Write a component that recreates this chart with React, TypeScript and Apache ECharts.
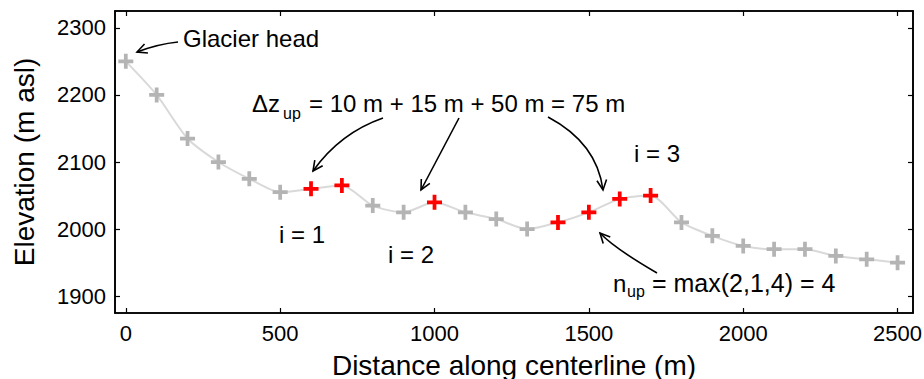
import React, { useEffect, useRef } from "react";
import * as echarts from "echarts";

const distances = [0, 100, 200, 300, 400, 500, 600, 700, 800, 900, 1000, 1100, 1200, 1300, 1400, 1500, 1600, 1700, 1800, 1900, 2000, 2100, 2200, 2300, 2400, 2500];
const elevations = [2250, 2200, 2135, 2100, 2075, 2055, 2060, 2065, 2035, 2025, 2040, 2025, 2015, 2000, 2010, 2025, 2045, 2050, 2010, 1990, 1975, 1970, 1970, 1960, 1955, 1950];
const highlighted = [600, 700, 1000, 1400, 1500, 1600, 1700];
const xTicks = [0, 500, 1000, 1500, 2000, 2500];
const yTicks = [1900, 2000, 2100, 2200, 2300];

const FONT = "'Liberation Sans', Arial, Helvetica, sans-serif";
const PLUS = "path://M3,0h2v3h3v2h-3v3h-2v-3h-3v-2h3z";

type P = [number, number];

function arrow(tail: P, ctrl: P, tip: P): any[] {
  const dx = tip[0] - ctrl[0];
  const dy = tip[1] - ctrl[1];
  const len = Math.hypot(dx, dy) || 1;
  const ux = dx / len;
  const uy = dy / len;
  const L = 11;
  const a = (26 * Math.PI) / 180;
  const rot = (s: number): P => {
    const c = Math.cos(s * a);
    const sn = Math.sin(s * a);
    const rx = ux * c - uy * sn;
    const ry = ux * sn + uy * c;
    return [tip[0] - L * rx, tip[1] - L * ry];
  };
  return [
    {
      type: "bezierCurve",
      z: 100,
      shape: { x1: tail[0], y1: tail[1], x2: tip[0], y2: tip[1], cpx1: ctrl[0], cpy1: ctrl[1] },
      style: { stroke: "#000", lineWidth: 1.6, fill: null },
    },
    {
      type: "polyline",
      z: 100,
      shape: { points: [rot(1), tip, rot(-1)] },
      style: { stroke: "#000", lineWidth: 1.6, fill: null },
    },
  ];
}

function label(text: string, x: number, y: number, size: number): any {
  return {
    type: "text",
    z: 100,
    style: { text, x, y, font: `${size}px ${FONT}`, fill: "#000", textAlign: "left", textVerticalAlign: "middle" },
  };
}

export default function App() {
  const ref = useRef<HTMLDivElement>(null);
  useEffect(() => {
    document.body.style.margin = "0";
    const chart = echarts.init(ref.current!, undefined, { renderer: "svg" });
    const data = distances.map((d, i) => ({
      value: [d, elevations[i]],
      itemStyle: { color: highlighted.includes(d) ? "#ff0000" : "#b4b4b4" },
    }));
    const tickStyle = { color: "#000", width: 1.2 };
    const axisCommon = {
      type: "value",
      axisLine: { show: true, onZero: false, lineStyle: { color: "#000", width: 1.6 } },
      splitLine: { show: false },
    };
    const labelStyle = { color: "#000", fontSize: 22, fontFamily: FONT, formatter: (v: number) => String(v) };
    const option: any = {
      animation: false,
      grid: {
        left: 115,
        right: 11,
        top: 11,
        bottom: 66,
        outerBoundsMode: "none",
        show: true,
        borderColor: "#000",
        borderWidth: 1.6,
        backgroundColor: "transparent",
      },
      xAxis: [
        {
          ...axisCommon,
          min: -35,
          max: 2550,
          position: "bottom",
          axisTick: { show: true, inside: true, length: 5, customValues: xTicks, lineStyle: tickStyle },
          axisLabel: { ...labelStyle, margin: 9, customValues: xTicks },
          name: "Distance along centerline (m)",
          nameLocation: "middle",
          nameGap: 38,
          nameTextStyle: { color: "#000", fontSize: 28, fontFamily: FONT },
        },
        {
          ...axisCommon,
          min: -35,
          max: 2550,
          position: "top",
          axisTick: { show: true, inside: true, length: 5, customValues: xTicks, lineStyle: tickStyle },
          axisLabel: { show: false },
        },
      ],
      yAxis: [
        {
          ...axisCommon,
          min: 1875,
          max: 2325,
          position: "left",
          axisTick: { show: true, inside: true, length: 5, customValues: yTicks, lineStyle: tickStyle },
          axisLabel: { ...labelStyle, margin: 9, customValues: yTicks },
          name: "Elevation (m asl)",
          nameLocation: "middle",
          nameGap: 77,
          nameTextStyle: { color: "#000", fontSize: 28, fontFamily: FONT },
        },
        {
          ...axisCommon,
          min: 1875,
          max: 2325,
          position: "right",
          axisTick: { show: true, inside: true, length: 5, customValues: yTicks, lineStyle: tickStyle },
          axisLabel: { show: false },
        },
      ],
      series: [
        {
          type: "line",
          xAxisIndex: 0,
          yAxisIndex: 0,
          data,
          smooth: 0.25,
          symbol: PLUS,
          symbolSize: 15,
          showSymbol: true,
          lineStyle: { color: "#d9d9d9", width: 2 },
          emphasis: { disabled: true },
        },
      ],
      graphic: [
        label("Glacier head", 183, 38, 24),
        ...arrow([178, 42], [158, 44], [137, 52]),
        label("\u0394z", 252, 103, 24),
        label("up", 283, 113, 16),
        label("= 10 m + 15 m + 50 m = 75 m", 309, 103, 24),
        ...arrow([383, 118], [340, 133], [313, 171]),
        ...arrow([459, 118], [443, 148], [421, 190]),
        ...arrow([548, 117], [597, 143], [603, 190]),
        label("i = 1", 279, 234, 24),
        label("i = 2", 388, 254, 24),
        label("i = 3", 634, 153, 24),
        label("n", 613, 283, 24),
        label("up", 627, 291, 16),
        label("= max(2,1,4) = 4", 652, 283, 25),
        ...arrow([657, 273], [614, 248], [600, 233]),
      ],
    };
    chart.setOption(option);
    return () => chart.dispose();
  }, []);
  return <div ref={ref} style={{ width: 924, height: 379 }} />;
}
